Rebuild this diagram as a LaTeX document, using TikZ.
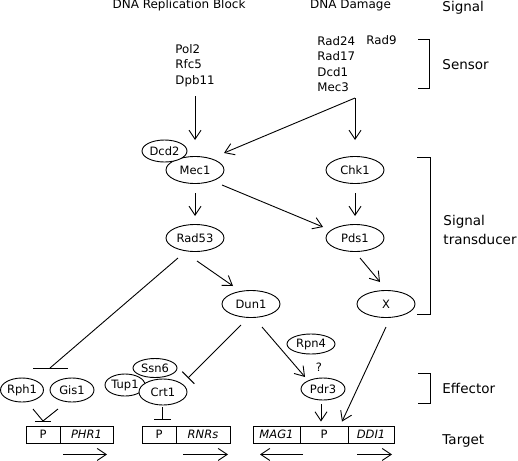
\documentclass[tikz,border=0pt]{standalone}
\usepackage{fontspec}
\setmainfont{DejaVu Sans}
\usetikzlibrary{shapes.geometric,arrows.meta,calc}
\begin{document}
\begin{tikzpicture}[x=1pt,y=-1pt,
  line width=0.9pt,
  el/.style={ellipse,draw,fill=white,inner sep=0pt,font=\fontsize{11.5}{13}\selectfont},
  big/.style={el,minimum width=58pt,minimum height=27pt},
  arr/.style={-{Straight Barb[length=9pt,width=12pt]}},
  inh/.style={-{Bar[width=17pt]}},
  cell/.style={draw,rectangle,minimum height=17pt,inner sep=0pt,font=\fontsize{11.5}{13}\selectfont},
  lab/.style={anchor=base west,inner sep=0pt,font=\fontsize{13.5}{16}\selectfont},
  txt/.style={inner sep=0pt,font=\fontsize{11.8}{15.4}\selectfont,align=left},
  head/.style={anchor=base,inner sep=0pt,font=\fontsize{12}{14}\selectfont},
]
\useasboundingbox (0,0) rectangle (518,460);

% headings
\node[head] (h1) at (179,9) {DNA Replication Block};
\node[head] (h2) at (350.5,9) {DNA Damage};

% right-side labels
\node[lab] (lsig) at (442,12) {Signal};
\node[lab] (lsen) at (442,69) {Sensor};
\node[lab] (lst1) at (443,225) {Signal};
\node[lab] (lst2) at (443,244) {transducer};
\node[lab] (leff) at (442,393) {Effector};
\node[lab] (ltar) at (442,444) {Target};

% brackets
\draw (418,39) -- (429,39) -- (429,88) -- (418,88);
\draw (417,157) -- (430,157) -- (430,314) -- (417,314);
\draw (418,373) -- (430,373) -- (430,403) -- (418,403);

% sensors
\node[txt,anchor=north] (pol) at (195,44) {Pol2\\Rfc5\\Dpb11};
\node[txt,anchor=north west] (sens) at (317,36) {Rad24\\Rad17\\Dcd1\\Mec3};
\node[txt,anchor=base west] (rad9) at (366,45) {Rad9};
\coordinate (sj) at (355,98);

% transducer nodes
\node[big] (mec1) at (195,170) {Mec1};
\node[el,minimum width=45pt,minimum height=22pt] (dcd2) at (164.5,151) {Dcd2};
\node[big] (chk1) at (355,170) {Chk1};
\node[big] (rad53) at (195,238) {Rad53};
\node[big] (pds1) at (355,238) {Pds1};
\node[big] (dun1) at (251,304) {Dun1};
\node[big] (x) at (386,304) {X};

% effectors
\node[el,minimum width=48pt,minimum height=20pt] (rpn4) at (311,344) {Rpn4};
\node[inner sep=0pt,font=\fontsize{11.5}{13}\selectfont] (q) at (319,367) {?};
\node[el,minimum width=44pt,minimum height=22pt] (pdr3) at (323,389) {Pdr3};
\node[el,minimum width=43pt,minimum height=24pt] (rph1) at (22,390) {Rph1};
\node[el,minimum width=44pt,minimum height=24pt] (gis1) at (72,390) {Gis1};
\node[el,minimum width=40pt,minimum height=22pt] (tup1) at (125,385) {Tup1};
\node[el,minimum width=44pt,minimum height=19pt] (ssn6) at (155,368) {Ssn6};
\node[el,minimum width=48pt,minimum height=26pt] (crt1) at (163,392) {Crt1};

% target cells
\node[cell,minimum width=34pt] (php) at (43,434.5) {P};
\node[cell,minimum width=53pt] (phg) at (86.5,434.5) {\itshape PHR1};
\node[cell,minimum width=34pt] (rnp) at (159,434.5) {P};
\node[cell,minimum width=54pt] (rng) at (203,434.5) {\itshape RNRs};
\node[cell,minimum width=47pt] (mag) at (276.5,434.5) {\itshape MAG1};
\node[cell,minimum width=48pt] (p2) at (324,434.5) {P};
\node[cell,minimum width=46pt] (ddi) at (371,434.5) {\itshape DDI1};

% connectors
\draw[arr] ($(pol.south)+(0,9)$) -- ($(mec1)+(0,-30)$);
\draw[arr] (sj) -- ($(chk1)+(0,-30)$);
\draw[arr] (sj) -- ($(mec1)+(29,-17)$);
\draw[arr] ($(mec1)+(0,23)$) -- ($(rad53)+(0,-22)$);
\draw[arr] ($(chk1)+(0,23)$) -- ($(pds1)+(0,-22)$);
\draw[arr] ($(mec1)+(27,15)$) -- ($(pds1)+(-32,-11)$);
\draw[arr] ($(pds1)+(5,20)$) -- ($(x)+(-6,-22)$);
\draw[arr] ($(rad53)+(2,23)$) -- ($(dun1)+(-18,-18)$);
\coordinate (b1) at (50,368);
\draw ($(rad53)+(-17,20)$) -- (b1);
\draw ($(b1)+(-17,0)$) -- ($(b1)+(18,0)$);
\draw[inh] ($(dun1)+(-10,21)$) -- ($(crt1)+(25,-14)$);
\draw[arr] ($(dun1)+(11,23)$) -- ($(pdr3)+(-18,-12)$);
\draw[arr] ($(x)+(0,23)$) -- ($(p2.north)+(18,-4)$);
\draw[arr] ($(pdr3)+(-2,15)$) -- ($(p2.north)+(-3,-4)$);
\coordinate (v1) at (43,421);
\draw ($(rph1)+(11,19)$) -- (v1);
\draw ($(gis1)+(-14,19)$) -- (v1);
\draw ($(v1)+(-8,0)$) -- ($(v1)+(8,0)$);
\draw[inh] ($(crt1)+(-1,15)$) -- ($(rnp.north)+(3,-6)$);

% transcription arrows
\draw[arr] ($(phg.south)+(-23.5,11)$) -- ($(phg.south)+(20.5,11)$);
\draw[arr] ($(rng.south)+(-20,11)$) -- ($(rng.south)+(25,11)$);
\draw[arr] ($(mag.south)+(26.5,11)$) -- ($(mag.south)+(-16.5,11)$);
\draw[arr] ($(ddi.south)+(-14,11)$) -- ($(ddi.south)+(21,11)$);
\end{tikzpicture}
\end{document}
